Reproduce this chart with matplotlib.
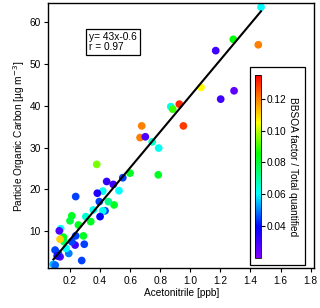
import numpy as np
import matplotlib
matplotlib.use("Agg")
import matplotlib.pyplot as plt
from matplotlib.colors import LinearSegmentedColormap, Normalize
from matplotlib.patches import Rectangle

plt.rcParams['font.family'] = ['Liberation Sans', 'DejaVu Sans']
plt.rcParams['font.size'] = 7.3

# acetonitrile [ppb], particle organic carbon [ug m-3], BBSOA fraction
acetonitrile = [1.470, 1.286, 1.452, 1.169, 1.071, 1.291, 1.202, 0.927, 0.870, 0.883,
                0.954, 0.677, 0.666, 0.701, 0.747, 0.790, 0.787, 0.599, 0.551, 0.526,
                0.493, 0.488, 0.455, 0.444, 0.433, 0.418, 0.418, 0.400, 0.395, 0.382,
                0.378, 0.355, 0.338, 0.305, 0.295, 0.289, 0.278, 0.256, 0.238, 0.238,
                0.234, 0.212, 0.212, 0.200, 0.192, 0.174, 0.160, 0.156, 0.134, 0.138,
                0.129, 0.134, 0.122, 0.101, 0.089, 0.102, 0.115]
poc = [63.6, 55.9, 54.6, 53.2, 44.4, 43.6, 41.6, 40.4, 39.8, 39.2,
       35.2, 35.2, 32.4, 32.6, 31.4, 29.9, 23.5, 23.9, 22.8, 19.7,
       16.3, 21.2, 17.1, 21.9, 14.9, 14.9, 19.6, 13.5, 17.1, 19.1,
       26.0, 15.1, 12.3, 13.5, 6.9, 8.9, 3.0, 11.5, 18.3, 8.9,
       6.7, 7.5, 13.7, 12.5, 4.7, 5.9, 7.5, 8.6, 8.1, 10.6,
       10.1, 3.9, 4.7, 5.5, 2.1, 1.9, 4.1]
bbsoa_frac = [0.060, 0.085, 0.120, 0.030, 0.105, 0.025, 0.030, 0.130, 0.062, 0.090,
              0.128, 0.120, 0.120, 0.028, 0.065, 0.062, 0.082, 0.082, 0.045, 0.060,
              0.082, 0.030, 0.072, 0.032, 0.045, 0.062, 0.062, 0.040, 0.045, 0.035,
              0.095, 0.062, 0.082, 0.065, 0.045, 0.082, 0.045, 0.082, 0.045, 0.045,
              0.030, 0.045, 0.082, 0.080, 0.050, 0.060, 0.076, 0.082, 0.110, 0.060,
              0.028, 0.028, 0.045, 0.045, 0.055, 0.048, 0.035]

slope, intercept, r_value = 43, -0.6, 0.97
fit_x = [0.09, 1.47]

cmap = LinearSegmentedColormap.from_list(
    'igor_rainbow',
    [(0.0, '#7f00ff'), (0.17, '#0000ff'), (0.35, '#00ffff'),
     (0.57, '#00ff00'), (0.74, '#ffff00'), (0.87, '#ff8000'), (1.0, '#ff0000')])
norm = Normalize(vmin=0.02, vmax=0.135)

fig = plt.figure(figsize=(3.2, 3.08), dpi=100)
ax = fig.add_axes([0.151, 0.129, 0.831, 0.860])

sc = ax.scatter(acetonitrile, poc, c=bbsoa_frac, cmap=cmap, norm=norm,
                s=31, edgecolors='none', zorder=2)
fx = np.array(fit_x)
ax.plot(fx, slope * fx + intercept, color='black', lw=1.5, zorder=3)

ax.set_xlim(0.056, 1.824)
ax.set_ylim(1.15, 64.5)
ax.set_xticks([0.2, 0.4, 0.6, 0.8, 1.0, 1.2, 1.4, 1.6, 1.8])
ax.set_yticks([10, 20, 30, 40, 50, 60])
ax.tick_params(direction='out', length=3, width=0.8, pad=2.5)
for sp in ax.spines.values():
    sp.set_linewidth(1.0)
ax.set_xlabel('Acetonitrile [ppb]', labelpad=1.5)
ax.set_ylabel('Particle Organic Carbon [µg m$^{-3}$]', labelpad=2)

ax.text(0.152, 0.893, 'y= 43x-0.6\nr = 0.97', transform=ax.transAxes,
        va='top', ha='left', linespacing=1.05,
        bbox=dict(boxstyle='square,pad=0.3', fc='white', ec='black', lw=0.9))

# colorbar inside a framed box
ax.add_patch(Rectangle((0.758, 0.0125), 0.207, 0.748, transform=ax.transAxes,
                       fc='white', ec='black', lw=0.9, zorder=4))
cax = ax.inset_axes([0.777, 0.039, 0.0214, 0.691])
cax.set_zorder(5)
cb = fig.colorbar(sc, cax=cax)
cb.set_ticks([0.04, 0.06, 0.08, 0.10, 0.12])
cb.ax.set_yticklabels(['0.04', '0.06', '0.08', '0.10', '0.12'])
cb.ax.tick_params(direction='out', length=3, width=0.8, pad=1.5)
cb.outline.set_linewidth(0.6)
cb.set_label('BBSOA factor / Total quantified', rotation=270, labelpad=8)

fig.savefig('out.png', dpi=100)
